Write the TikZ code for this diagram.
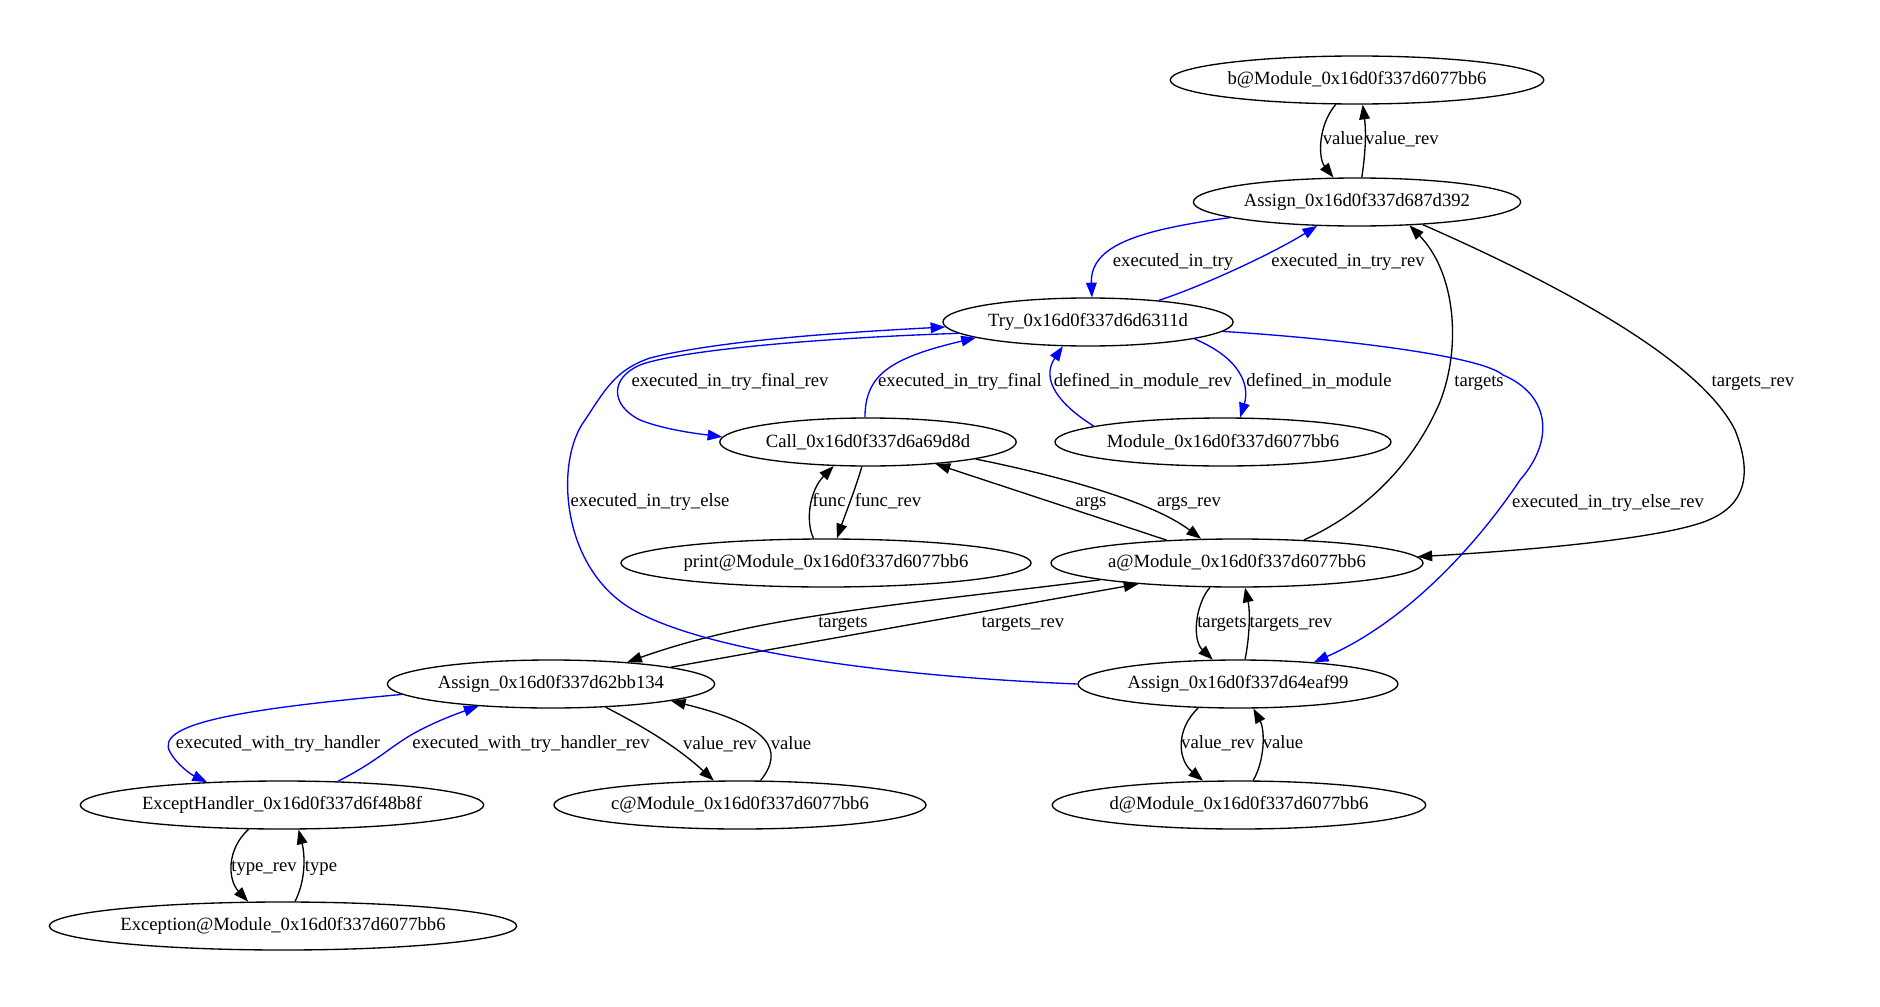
\documentclass[tikz,border=0pt]{standalone}
\usepackage{fontspec}
\setmainfont{Liberation Serif}
\usetikzlibrary{arrows.meta,shapes.geometric}

\tikzset{
  gnode/.style={draw, ellipse, line width=1pt, inner xsep=2pt, inner ysep=2pt,
    minimum height=36pt, font=\fontsize{14pt}{16pt}\selectfont},
  elabel/.style={inner sep=0pt, text height=9.5pt, text depth=3pt,
    font=\fontsize{14pt}{16pt}\selectfont},
  edge/.style={->, line width=1pt},
  bedge/.style={->, line width=1pt, draw=blue},
}

\begin{document}
\begin{tikzpicture}[x=0.75pt, y=-0.75pt, >={Triangle[length=11pt,width=8pt]}]
  \useasboundingbox (0,0) rectangle (1880,1006);

  % nodes
  \node[gnode] (bmod)    at (1357,80)  {b@Module\_0x16d0f337d6077bb6};
  \node[gnode] (asg392)  at (1357,202) {Assign\_0x16d0f337d687d392};
  \node[gnode] (try)     at (1088,322) {Try\_0x16d0f337d6d6311d};
  \node[gnode] (call)    at (868,442)  {Call\_0x16d0f337d6a69d8d};
  \node[gnode] (module)  at (1223,442) {Module\_0x16d0f337d6077bb6};
  \node[gnode] (print)   at (826,563)  {print@Module\_0x16d0f337d6077bb6};
  \node[gnode] (amod)    at (1237,563) {a@Module\_0x16d0f337d6077bb6};
  \node[gnode] (asg134)  at (551,684)  {Assign\_0x16d0f337d62bb134};
  \node[gnode] (asgeaf)  at (1238,684) {Assign\_0x16d0f337d64eaf99};
  \node[gnode] (handler) at (282,805)  {ExceptHandler\_0x16d0f337d6f48b8f};
  \node[gnode] (cmod)    at (740,805)  {c@Module\_0x16d0f337d6077bb6};
  \node[gnode] (dmod)    at (1239,805) {d@Module\_0x16d0f337d6077bb6};
  \node[gnode] (excmod)  at (283,926)  {Exception@Module\_0x16d0f337d6077bb6};

  % black edges
  \draw[edge] (bmod.229) .. controls (1318,125) and (1318,158) .. (asg392.134);
  \draw[edge] (asg392.79) .. controls (1366,150) and (1366,130) .. (bmod.283);
  \draw[edge] (print.117) .. controls (805,520) and (810,490) .. (call.215);
  \draw[edge] (call.256) .. controls (855,490) and (845,515) .. (print.66);
  \draw[edge] (call.351) .. controls (1050,474) and (1150,500) .. (amod.146);
  \draw[edge] (amod.162) -- (call.342);
  \draw[edge] (amod.19) .. controls (1370,510) and (1415,460) .. (1440,402)
    .. controls (1462,345) and (1455,272) .. (asg392.336);
  \draw[edge] (asg392.341) .. controls (1560,285) and (1700,360) .. (1735,430)
    .. controls (1755,480) and (1740,505) .. (1713,518)
    .. controls (1670,540) and (1500,552) .. (amod.2);
  \draw[edge] (amod.187) .. controls (900,605) and (760,615) .. (asg134.16);
  \draw[edge] (asg134.8) -- (amod.192);
  \draw[edge] (amod.222) .. controls (1195,605) and (1192,640) .. (asgeaf.136);
  \draw[edge] (asgeaf.74) .. controls (1250,635) and (1250,610) .. (amod.288);
  \draw[edge] (asg134.337) .. controls (640,725) and (675,745) .. (cmod.137);
  \draw[edge] (cmod.50) .. controls (785,750) and (770,725) .. (asg134.352);
  \draw[edge] (asgeaf.211) .. controls (1175,730) and (1178,760) .. (dmod.146);
  \draw[edge] (dmod.60) .. controls (1265,760) and (1265,730) .. (asgeaf.302);
  \draw[edge] (handler.216) .. controls (226,850) and (228,880) .. (excmod.145);
  \draw[edge] (excmod.64) .. controls (306,880) and (305,855) .. (handler.304);

  % blue edges
  \draw[bedge] (asg392.187) .. controls (1140,230) and (1090,245) .. (try.81);
  \draw[bedge] (try.17) .. controls (1200,287) and (1270,255) .. (asg392.211);
  \draw[bedge] (try.185) .. controls (820,338) and (680,350) .. (640,365)
    .. controls (610,378) and (610,405) .. (640,420)
    .. controls (665,430) and (700,434) .. (call.178);
  \draw[bedge] (call.97) .. controls (865,375) and (890,358) .. (try.188);
  \draw[bedge] (module.173) .. controls (1060,405) and (1040,380) .. (try.224);
  \draw[bedge] (try.351) .. controls (1240,358) and (1250,385) .. (module.55);
  \draw[bedge] (asgeaf.180) .. controls (880,676) and (700,650) .. (630,608)
    .. controls (560,565) and (555,460) .. (585,420)
    .. controls (605,390) and (615,370) .. (650,358)
    .. controls (720,340) and (850,332) .. (try.182);
  \draw[bedge] (try.356) .. controls (1330,338) and (1480,355) .. (1503,375)
    .. controls (1550,395) and (1555,440) .. (1520,480)
    .. controls (1480,540) and (1410,620) .. (asgeaf.16);
  \draw[bedge] (asg134.184) .. controls (230,710) and (155,725) .. (170,752)
    .. controls (177,765) and (192,775) .. (handler.163);
  \draw[bedge] (handler.23) .. controls (370,765) and (385,752) .. (400,742)
    .. controls (420,728) and (450,716) .. (asg134.197);

  % edge labels
  \node[elabel] (lvalb)     at (1343,140) {value};
  \node[elabel] (lvalbrev)  at (1402,140) {value\_rev};
  \node[elabel] (ltry)      at (1173,262) {executed\_in\_try};
  \node[elabel] (ltryrev)   at (1348,262) {executed\_in\_try\_rev};
  \node[elabel] (lfinrev)   at (730,382)  {executed\_in\_try\_final\_rev};
  \node[elabel] (lfin)      at (960,382)  {executed\_in\_try\_final};
  \node[elabel] (ldefrev)   at (1143,382) {defined\_in\_module\_rev};
  \node[elabel] (ldef)      at (1319,382) {defined\_in\_module};
  \node[elabel] (ltgta)     at (1479,382) {targets};
  \node[elabel] (ltgtarev)  at (1753,382) {targets\_rev};
  \node[elabel] (lelse)     at (650,502)  {executed\_in\_try\_else};
  \node[elabel] (lfunc)     at (829,502)  {func};
  \node[elabel] (lfuncrev)  at (888,502)  {func\_rev};
  \node[elabel] (largs)     at (1091,502) {args};
  \node[elabel] (largsrev)  at (1189,502) {args\_rev};
  \node[elabel] (lelserev)  at (1608,503) {executed\_in\_try\_else\_rev};
  \node[elabel] (ltgtb)     at (843,623)  {targets};
  \node[elabel] (ltgtbrev)  at (1023,623) {targets\_rev};
  \node[elabel] (ltgtc)     at (1222,623) {targets};
  \node[elabel] (ltgtcrev)  at (1291,623) {targets\_rev};
  \node[elabel] (lhand)     at (278,744)  {executed\_with\_try\_handler};
  \node[elabel] (lhandrev)  at (531,744)  {executed\_with\_try\_handler\_rev};
  \node[elabel] (lvalcrev)  at (720,745)  {value\_rev};
  \node[elabel] (lvalc)     at (791,745)  {value};
  \node[elabel] (lvaldrev)  at (1218,744) {value\_rev};
  \node[elabel] (lvald)     at (1283,744) {value};
  \node[elabel] (ltyperev)  at (264,867)  {type\_rev};
  \node[elabel] (ltype)     at (321,867)  {type};
\end{tikzpicture}
\end{document}
